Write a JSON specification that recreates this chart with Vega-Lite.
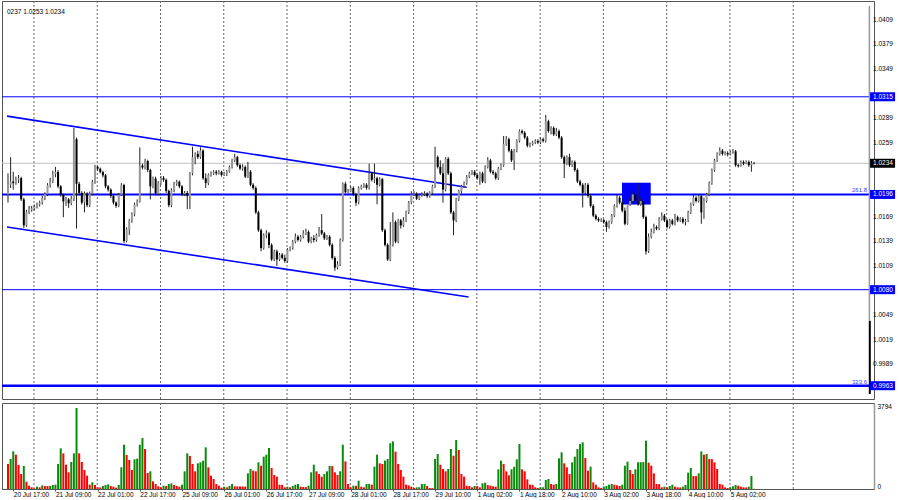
{
"$schema": "https://vega.github.io/schema/vega-lite/v6.json",
"background": "white",
"padding": 0,
"spacing": 2,
"config": {"view": {"stroke": "#555", "strokeWidth": 1}, "font": "Liberation Sans"},
"datasets": {
"grid": [{"g":9.85},{"g":33.85},{"g":57.85},{"g":81.85},{"g":105.85},{"g":129.85},{"g":153.85},{"g":177.85},{"g":201.85},{"g":225.85},{"g":249.85},{"g":273.85},{"g":297.85}],
"chan": [{"id":"up","k":-0.375,"p":1.02914},{"id":"up","k":174.0,"p":1.02047},{"id":"dn","k":-0.375,"p":1.01564},{"id":"dn","k":174.7,"p":1.00711}],
"yt": [{"p":1.0409},{"p":1.0379},{"p":1.0349},{"p":1.0289},{"p":1.0259},{"p":1.0169},{"p":1.0139},{"p":1.0109},{"p":1.0049},{"p":1.0019},{"p":0.9989}],
"tags": [{"p":1.0315,"kind":"level"},{"p":1.0234,"kind":"price"},{"p":1.0196,"kind":"level"},{"p":1.0080,"kind":"level"},{"p":0.9963,"kind":"level"}],
"fib": [{"p":1.0196,"t":"261.8"},{"p":0.9963,"t":"323.6"}],
"bars": [
{"k":0,"o":1.01960,"h":1.02217,"l":1.01861,"c":1.02078,"v":1105},
{"k":1,"o":1.02078,"h":1.02415,"l":1.02039,"c":1.02118,"v":1326},
{"k":2,"o":1.02118,"h":1.02237,"l":1.02019,"c":1.02098,"v":1664},
{"k":3,"o":1.02098,"h":1.02177,"l":1.02078,"c":1.02138,"v":1517},
{"k":4,"o":1.02138,"h":1.02197,"l":1.02098,"c":1.02158,"v":1061},
{"k":5,"o":1.02158,"h":1.02177,"l":1.01880,"c":1.01900,"v":663},
{"k":6,"o":1.01900,"h":1.01920,"l":1.01552,"c":1.01583,"v":1016},
{"k":7,"o":1.01583,"h":1.01773,"l":1.01564,"c":1.01750,"v":324},
{"k":8,"o":1.01750,"h":1.01821,"l":1.01722,"c":1.01773,"v":147},
{"k":9,"o":1.01773,"h":1.01821,"l":1.01750,"c":1.01789,"v":74},
{"k":10,"o":1.01789,"h":1.01837,"l":1.01766,"c":1.01813,"v":29},
{"k":11,"o":1.01813,"h":1.01861,"l":1.01789,"c":1.01837,"v":103},
{"k":12,"o":1.01837,"h":1.01884,"l":1.01813,"c":1.01861,"v":74},
{"k":13,"o":1.01861,"h":1.01940,"l":1.01837,"c":1.01916,"v":162},
{"k":14,"o":1.01916,"h":1.01987,"l":1.01892,"c":1.01964,"v":133},
{"k":15,"o":1.01964,"h":1.02098,"l":1.01940,"c":1.02074,"v":130},
{"k":16,"o":1.02074,"h":1.02162,"l":1.02043,"c":1.02122,"v":135},
{"k":17,"o":1.02122,"h":1.02249,"l":1.02098,"c":1.02209,"v":177},
{"k":18,"o":1.02209,"h":1.02296,"l":1.02169,"c":1.02233,"v":191},
{"k":19,"o":1.02233,"h":1.02257,"l":1.02035,"c":1.02059,"v":1105},
{"k":20,"o":1.02059,"h":1.02074,"l":1.01932,"c":1.01956,"v":1797},
{"k":21,"o":1.01956,"h":1.01971,"l":1.01683,"c":1.01876,"v":1576},
{"k":22,"o":1.01876,"h":1.01932,"l":1.01821,"c":1.01900,"v":1075},
{"k":23,"o":1.01900,"h":1.01916,"l":1.01797,"c":1.01853,"v":737},
{"k":24,"o":1.01853,"h":1.01940,"l":1.01829,"c":1.01908,"v":1193},
{"k":25,"o":1.01908,"h":1.02771,"l":1.01880,"c":1.02633,"v":1576},
{"k":26,"o":1.02633,"h":1.02653,"l":1.01544,"c":1.02090,"v":3579},
{"k":27,"o":1.02090,"h":1.02114,"l":1.01948,"c":1.01979,"v":1576},
{"k":28,"o":1.01979,"h":1.01999,"l":1.01837,"c":1.01861,"v":1193},
{"k":29,"o":1.01861,"h":1.01995,"l":1.01742,"c":1.01971,"v":840},
{"k":30,"o":1.01971,"h":1.01987,"l":1.01805,"c":1.01829,"v":589},
{"k":31,"o":1.01829,"h":1.01995,"l":1.01805,"c":1.01971,"v":191},
{"k":32,"o":1.01971,"h":1.02138,"l":1.01948,"c":1.02114,"v":295},
{"k":33,"o":1.02114,"h":1.02320,"l":1.02090,"c":1.02296,"v":177},
{"k":34,"o":1.02296,"h":1.02312,"l":1.02249,"c":1.02273,"v":74},
{"k":35,"o":1.02273,"h":1.02288,"l":1.02217,"c":1.02233,"v":70},
{"k":36,"o":1.02233,"h":1.02249,"l":1.02169,"c":1.02193,"v":133},
{"k":37,"o":1.02193,"h":1.02209,"l":1.02035,"c":1.02059,"v":177},
{"k":38,"o":1.02059,"h":1.02074,"l":1.01995,"c":1.02019,"v":206},
{"k":39,"o":1.02019,"h":1.02035,"l":1.01916,"c":1.01940,"v":133},
{"k":40,"o":1.01940,"h":1.01956,"l":1.01837,"c":1.01861,"v":103},
{"k":41,"o":1.01861,"h":1.01876,"l":1.01797,"c":1.01821,"v":59},
{"k":42,"o":1.01821,"h":1.01979,"l":1.01805,"c":1.01956,"v":177},
{"k":43,"o":1.01956,"h":1.02098,"l":1.01940,"c":1.02074,"v":957},
{"k":44,"o":1.02074,"h":1.02090,"l":1.01366,"c":1.01393,"v":1959},
{"k":45,"o":1.01393,"h":1.01560,"l":1.01377,"c":1.01536,"v":1502},
{"k":46,"o":1.01536,"h":1.01663,"l":1.01465,"c":1.01639,"v":1282},
{"k":47,"o":1.01639,"h":1.01742,"l":1.01615,"c":1.01718,"v":840},
{"k":48,"o":1.01718,"h":1.01861,"l":1.01694,"c":1.01837,"v":1311},
{"k":49,"o":1.01837,"h":1.01900,"l":1.01813,"c":1.01876,"v":1340},
{"k":50,"o":1.01876,"h":1.02534,"l":1.01861,"c":1.02312,"v":1959},
{"k":51,"o":1.02312,"h":1.02336,"l":1.02265,"c":1.02288,"v":2254},
{"k":52,"o":1.02288,"h":1.02395,"l":1.02265,"c":1.02367,"v":1768},
{"k":53,"o":1.02367,"h":1.02383,"l":1.02233,"c":1.02257,"v":707},
{"k":54,"o":1.02257,"h":1.02273,"l":1.01900,"c":1.02059,"v":781},
{"k":55,"o":1.02059,"h":1.02177,"l":1.02035,"c":1.02154,"v":339},
{"k":56,"o":1.02154,"h":1.02177,"l":1.01948,"c":1.01971,"v":221},
{"k":57,"o":1.01971,"h":1.02122,"l":1.01948,"c":1.02098,"v":118},
{"k":58,"o":1.02098,"h":1.02185,"l":1.02074,"c":1.02162,"v":74},
{"k":59,"o":1.02162,"h":1.02185,"l":1.02114,"c":1.02138,"v":147},
{"k":60,"o":1.02138,"h":1.02154,"l":1.01979,"c":1.02003,"v":133},
{"k":61,"o":1.02003,"h":1.02019,"l":1.01805,"c":1.01829,"v":221},
{"k":62,"o":1.01829,"h":1.02035,"l":1.01805,"c":1.02011,"v":250},
{"k":63,"o":1.02011,"h":1.02114,"l":1.01987,"c":1.02090,"v":177},
{"k":64,"o":1.02090,"h":1.02138,"l":1.02066,"c":1.02114,"v":133},
{"k":65,"o":1.02114,"h":1.02130,"l":1.02035,"c":1.02059,"v":103},
{"k":66,"o":1.02059,"h":1.02074,"l":1.01940,"c":1.01964,"v":191},
{"k":67,"o":1.01964,"h":1.02003,"l":1.01940,"c":1.01979,"v":781},
{"k":68,"o":1.01979,"h":1.02003,"l":1.01781,"c":1.01940,"v":1576},
{"k":69,"o":1.01940,"h":1.02233,"l":1.01781,"c":1.02217,"v":1458},
{"k":70,"o":1.02217,"h":1.02542,"l":1.02193,"c":1.02415,"v":1105},
{"k":71,"o":1.02415,"h":1.02474,"l":1.02328,"c":1.02455,"v":781},
{"k":72,"o":1.02455,"h":1.02494,"l":1.02391,"c":1.02415,"v":1134},
{"k":73,"o":1.02415,"h":1.02534,"l":1.02395,"c":1.02494,"v":1178},
{"k":74,"o":1.02494,"h":1.02510,"l":1.02138,"c":1.02158,"v":1252},
{"k":75,"o":1.02158,"h":1.02217,"l":1.02039,"c":1.02098,"v":1841},
{"k":76,"o":1.02098,"h":1.02217,"l":1.02074,"c":1.02197,"v":957},
{"k":77,"o":1.02197,"h":1.02241,"l":1.02177,"c":1.02217,"v":589},
{"k":78,"o":1.02217,"h":1.02257,"l":1.02197,"c":1.02237,"v":442},
{"k":79,"o":1.02237,"h":1.02257,"l":1.02193,"c":1.02217,"v":221},
{"k":80,"o":1.02217,"h":1.02257,"l":1.02201,"c":1.02237,"v":147},
{"k":81,"o":1.02237,"h":1.02249,"l":1.02177,"c":1.02197,"v":59},
{"k":82,"o":1.02197,"h":1.02233,"l":1.02185,"c":1.02217,"v":103},
{"k":83,"o":1.02217,"h":1.02257,"l":1.02185,"c":1.02237,"v":74},
{"k":84,"o":1.02237,"h":1.02312,"l":1.02225,"c":1.02296,"v":133},
{"k":85,"o":1.02296,"h":1.02395,"l":1.02276,"c":1.02375,"v":221},
{"k":86,"o":1.02375,"h":1.02455,"l":1.02356,"c":1.02415,"v":118},
{"k":87,"o":1.02415,"h":1.02431,"l":1.02296,"c":1.02316,"v":115},
{"k":88,"o":1.02316,"h":1.02336,"l":1.02257,"c":1.02276,"v":112},
{"k":89,"o":1.02276,"h":1.02328,"l":1.02249,"c":1.02296,"v":110},
{"k":90,"o":1.02296,"h":1.02312,"l":1.02158,"c":1.02177,"v":108},
{"k":91,"o":1.02177,"h":1.02356,"l":1.02162,"c":1.02237,"v":692},
{"k":92,"o":1.02237,"h":1.02257,"l":1.02059,"c":1.02078,"v":884},
{"k":93,"o":1.02078,"h":1.02098,"l":1.02019,"c":1.02039,"v":810},
{"k":94,"o":1.02039,"h":1.02059,"l":1.01722,"c":1.01742,"v":781},
{"k":95,"o":1.01742,"h":1.01762,"l":1.01504,"c":1.01524,"v":1178},
{"k":96,"o":1.01524,"h":1.01544,"l":1.01267,"c":1.01306,"v":1031},
{"k":97,"o":1.01306,"h":1.01485,"l":1.01287,"c":1.01465,"v":1429},
{"k":98,"o":1.01465,"h":1.01524,"l":1.01425,"c":1.01485,"v":1517},
{"k":99,"o":1.01485,"h":1.01504,"l":1.01306,"c":1.01346,"v":1812},
{"k":100,"o":1.01346,"h":1.01366,"l":1.01148,"c":1.01168,"v":928},
{"k":101,"o":1.01168,"h":1.01287,"l":1.01148,"c":1.01267,"v":619},
{"k":102,"o":1.01267,"h":1.01287,"l":1.01088,"c":1.01168,"v":545},
{"k":103,"o":1.01168,"h":1.01247,"l":1.01148,"c":1.01227,"v":191},
{"k":104,"o":1.01227,"h":1.01247,"l":1.01168,"c":1.01187,"v":185},
{"k":105,"o":1.01187,"h":1.01227,"l":1.01128,"c":1.01148,"v":74},
{"k":106,"o":1.01148,"h":1.01306,"l":1.01128,"c":1.01287,"v":103},
{"k":107,"o":1.01287,"h":1.01326,"l":1.01267,"c":1.01306,"v":74},
{"k":108,"o":1.01306,"h":1.01405,"l":1.01287,"c":1.01385,"v":133},
{"k":109,"o":1.01385,"h":1.01485,"l":1.01366,"c":1.01445,"v":191},
{"k":110,"o":1.01445,"h":1.01465,"l":1.01385,"c":1.01405,"v":221},
{"k":111,"o":1.01405,"h":1.01465,"l":1.01385,"c":1.01445,"v":103},
{"k":112,"o":1.01445,"h":1.01524,"l":1.01425,"c":1.01485,"v":88},
{"k":113,"o":1.01485,"h":1.01544,"l":1.01465,"c":1.01504,"v":85},
{"k":114,"o":1.01504,"h":1.01524,"l":1.01366,"c":1.01385,"v":147},
{"k":115,"o":1.01385,"h":1.01445,"l":1.01366,"c":1.01425,"v":737},
{"k":116,"o":1.01425,"h":1.01465,"l":1.01377,"c":1.01405,"v":1075},
{"k":117,"o":1.01405,"h":1.01485,"l":1.01385,"c":1.01465,"v":781},
{"k":118,"o":1.01465,"h":1.01564,"l":1.01445,"c":1.01524,"v":663},
{"k":119,"o":1.01524,"h":1.01722,"l":1.01465,"c":1.01485,"v":545},
{"k":120,"o":1.01485,"h":1.01504,"l":1.01405,"c":1.01425,"v":663},
{"k":121,"o":1.01425,"h":1.01465,"l":1.01405,"c":1.01445,"v":781},
{"k":122,"o":1.01445,"h":1.01465,"l":1.01326,"c":1.01346,"v":1016},
{"k":123,"o":1.01346,"h":1.01366,"l":1.01168,"c":1.01187,"v":1010},
{"k":124,"o":1.01187,"h":1.01207,"l":1.01029,"c":1.01069,"v":737},
{"k":125,"o":1.01069,"h":1.01148,"l":1.01049,"c":1.01108,"v":619},
{"k":126,"o":1.01108,"h":1.01425,"l":1.01088,"c":1.01405,"v":781},
{"k":127,"o":1.01405,"h":1.02106,"l":1.01385,"c":1.02090,"v":1959},
{"k":128,"o":1.02090,"h":1.02114,"l":1.01971,"c":1.01987,"v":1223},
{"k":129,"o":1.01987,"h":1.02027,"l":1.01971,"c":1.01999,"v":221},
{"k":130,"o":1.01999,"h":1.02059,"l":1.01987,"c":1.02039,"v":74},
{"k":131,"o":1.02039,"h":1.02059,"l":1.01940,"c":1.01960,"v":147},
{"k":132,"o":1.01960,"h":1.01979,"l":1.01821,"c":1.01861,"v":140},
{"k":133,"o":1.01861,"h":1.02059,"l":1.01841,"c":1.02039,"v":368},
{"k":134,"o":1.02039,"h":1.02078,"l":1.02019,"c":1.02059,"v":103},
{"k":135,"o":1.02059,"h":1.02098,"l":1.02039,"c":1.02078,"v":74},
{"k":136,"o":1.02078,"h":1.02098,"l":1.02019,"c":1.02039,"v":221},
{"k":137,"o":1.02039,"h":1.02336,"l":1.02019,"c":1.02217,"v":225},
{"k":138,"o":1.02217,"h":1.02237,"l":1.02118,"c":1.02138,"v":191},
{"k":139,"o":1.02138,"h":1.02336,"l":1.02098,"c":1.02158,"v":987},
{"k":140,"o":1.02158,"h":1.02177,"l":1.01841,"c":1.02078,"v":1517},
{"k":141,"o":1.02078,"h":1.02169,"l":1.02059,"c":1.02146,"v":1134},
{"k":142,"o":1.02146,"h":1.02162,"l":1.01504,"c":1.01524,"v":1105},
{"k":143,"o":1.01524,"h":1.01544,"l":1.01326,"c":1.01346,"v":1252},
{"k":144,"o":1.01346,"h":1.01366,"l":1.01148,"c":1.01168,"v":1326},
{"k":145,"o":1.01168,"h":1.01623,"l":1.01148,"c":1.01346,"v":2018},
{"k":146,"o":1.01346,"h":1.01742,"l":1.01326,"c":1.01623,"v":2106},
{"k":147,"o":1.01623,"h":1.01643,"l":1.01366,"c":1.01385,"v":1650},
{"k":148,"o":1.01385,"h":1.01663,"l":1.01366,"c":1.01643,"v":1105},
{"k":149,"o":1.01643,"h":1.01663,"l":1.01544,"c":1.01583,"v":840},
{"k":150,"o":1.01583,"h":1.01683,"l":1.01564,"c":1.01643,"v":545},
{"k":151,"o":1.01643,"h":1.01762,"l":1.01623,"c":1.01742,"v":191},
{"k":152,"o":1.01742,"h":1.01880,"l":1.01722,"c":1.01861,"v":162},
{"k":153,"o":1.01861,"h":1.01999,"l":1.01841,"c":1.01960,"v":103},
{"k":154,"o":1.01960,"h":1.01999,"l":1.01940,"c":1.01971,"v":44},
{"k":155,"o":1.01971,"h":1.01987,"l":1.01892,"c":1.01908,"v":74},
{"k":156,"o":1.01908,"h":1.01971,"l":1.01892,"c":1.01948,"v":78},
{"k":157,"o":1.01948,"h":1.01987,"l":1.01932,"c":1.01960,"v":221},
{"k":158,"o":1.01960,"h":1.01999,"l":1.01940,"c":1.01971,"v":225},
{"k":159,"o":1.01971,"h":1.01987,"l":1.01916,"c":1.01940,"v":133},
{"k":160,"o":1.01940,"h":1.01999,"l":1.01920,"c":1.01979,"v":44},
{"k":161,"o":1.01979,"h":1.02078,"l":1.01960,"c":1.02059,"v":40},
{"k":162,"o":1.02059,"h":1.02542,"l":1.02039,"c":1.02415,"v":1326},
{"k":163,"o":1.02415,"h":1.02435,"l":1.02276,"c":1.02296,"v":1547},
{"k":164,"o":1.02296,"h":1.02375,"l":1.02197,"c":1.02217,"v":1075},
{"k":165,"o":1.02217,"h":1.02336,"l":1.01861,"c":1.02019,"v":884},
{"k":166,"o":1.02019,"h":1.02415,"l":1.01999,"c":1.02395,"v":781},
{"k":167,"o":1.02395,"h":1.02415,"l":1.02197,"c":1.02217,"v":884},
{"k":168,"o":1.02217,"h":1.02237,"l":1.01722,"c":1.01742,"v":1768},
{"k":169,"o":1.01742,"h":1.01762,"l":1.01465,"c":1.01643,"v":1473},
{"k":170,"o":1.01643,"h":1.01920,"l":1.01623,"c":1.01900,"v":2165},
{"k":171,"o":1.01900,"h":1.02019,"l":1.01880,"c":1.01999,"v":1723},
{"k":172,"o":1.01999,"h":1.02078,"l":1.01971,"c":1.02059,"v":663},
{"k":173,"o":1.02059,"h":1.02118,"l":1.02039,"c":1.02098,"v":545},
{"k":174,"o":1.02098,"h":1.02197,"l":1.02078,"c":1.02177,"v":147},
{"k":175,"o":1.02177,"h":1.02237,"l":1.02158,"c":1.02217,"v":133},
{"k":176,"o":1.02217,"h":1.02257,"l":1.02197,"c":1.02237,"v":74},
{"k":177,"o":1.02237,"h":1.02257,"l":1.02177,"c":1.02197,"v":133},
{"k":178,"o":1.02197,"h":1.02217,"l":1.02138,"c":1.02158,"v":130},
{"k":179,"o":1.02158,"h":1.02237,"l":1.02078,"c":1.02217,"v":74},
{"k":180,"o":1.02217,"h":1.02237,"l":1.02098,"c":1.02118,"v":250},
{"k":181,"o":1.02118,"h":1.02316,"l":1.02098,"c":1.02296,"v":280},
{"k":182,"o":1.02296,"h":1.02415,"l":1.02276,"c":1.02375,"v":177},
{"k":183,"o":1.02375,"h":1.02395,"l":1.02217,"c":1.02237,"v":147},
{"k":184,"o":1.02237,"h":1.02257,"l":1.02197,"c":1.02217,"v":118},
{"k":185,"o":1.02217,"h":1.02237,"l":1.02138,"c":1.02158,"v":103},
{"k":186,"o":1.02158,"h":1.02296,"l":1.02138,"c":1.02276,"v":869},
{"k":187,"o":1.02276,"h":1.02336,"l":1.02257,"c":1.02316,"v":1252},
{"k":188,"o":1.02316,"h":1.02672,"l":1.02296,"c":1.02573,"v":1105},
{"k":189,"o":1.02573,"h":1.02672,"l":1.02554,"c":1.02633,"v":781},
{"k":190,"o":1.02633,"h":1.02653,"l":1.02474,"c":1.02494,"v":604},
{"k":191,"o":1.02494,"h":1.02514,"l":1.02356,"c":1.02375,"v":869},
{"k":192,"o":1.02375,"h":1.02514,"l":1.02257,"c":1.02494,"v":987},
{"k":193,"o":1.02494,"h":1.02633,"l":1.02474,"c":1.02613,"v":1311},
{"k":194,"o":1.02613,"h":1.02752,"l":1.02593,"c":1.02732,"v":1989},
{"k":195,"o":1.02732,"h":1.02752,"l":1.02692,"c":1.02712,"v":869},
{"k":196,"o":1.02712,"h":1.02732,"l":1.02633,"c":1.02653,"v":781},
{"k":197,"o":1.02653,"h":1.02672,"l":1.02534,"c":1.02554,"v":427},
{"k":198,"o":1.02554,"h":1.02593,"l":1.02534,"c":1.02573,"v":191},
{"k":199,"o":1.02573,"h":1.02613,"l":1.02554,"c":1.02593,"v":185},
{"k":200,"o":1.02593,"h":1.02633,"l":1.02573,"c":1.02613,"v":74},
{"k":201,"o":1.02613,"h":1.02633,"l":1.02573,"c":1.02593,"v":44},
{"k":202,"o":1.02593,"h":1.02653,"l":1.02573,"c":1.02633,"v":74},
{"k":203,"o":1.02633,"h":1.02653,"l":1.02593,"c":1.02613,"v":78},
{"k":204,"o":1.02613,"h":1.02930,"l":1.02593,"c":1.02851,"v":398},
{"k":205,"o":1.02851,"h":1.02870,"l":1.02712,"c":1.02732,"v":442},
{"k":206,"o":1.02732,"h":1.02791,"l":1.02692,"c":1.02771,"v":221},
{"k":207,"o":1.02771,"h":1.02791,"l":1.02672,"c":1.02692,"v":191},
{"k":208,"o":1.02692,"h":1.02771,"l":1.02672,"c":1.02732,"v":221},
{"k":209,"o":1.02732,"h":1.02752,"l":1.02633,"c":1.02653,"v":1355},
{"k":210,"o":1.02653,"h":1.02672,"l":1.02395,"c":1.02415,"v":1620},
{"k":211,"o":1.02415,"h":1.02435,"l":1.02158,"c":1.02336,"v":1134},
{"k":212,"o":1.02336,"h":1.02435,"l":1.02316,"c":1.02415,"v":957},
{"k":213,"o":1.02415,"h":1.02455,"l":1.02296,"c":1.02316,"v":663},
{"k":214,"o":1.02316,"h":1.02375,"l":1.02296,"c":1.02356,"v":1178},
{"k":215,"o":1.02356,"h":1.02375,"l":1.02237,"c":1.02257,"v":1429},
{"k":216,"o":1.02257,"h":1.02276,"l":1.02098,"c":1.02118,"v":1768},
{"k":217,"o":1.02118,"h":1.02138,"l":1.02059,"c":1.02078,"v":1989},
{"k":218,"o":1.02078,"h":1.02098,"l":1.01801,"c":1.01979,"v":2062},
{"k":219,"o":1.01979,"h":1.02098,"l":1.01960,"c":1.02078,"v":1370},
{"k":220,"o":1.02078,"h":1.02098,"l":1.01920,"c":1.01940,"v":810},
{"k":221,"o":1.01940,"h":1.01960,"l":1.01801,"c":1.01821,"v":987},
{"k":222,"o":1.01821,"h":1.01841,"l":1.01683,"c":1.01702,"v":295},
{"k":223,"o":1.01702,"h":1.01722,"l":1.01643,"c":1.01663,"v":191},
{"k":224,"o":1.01663,"h":1.01683,"l":1.01623,"c":1.01643,"v":74},
{"k":225,"o":1.01643,"h":1.01671,"l":1.01623,"c":1.01647,"v":44},
{"k":226,"o":1.01647,"h":1.01663,"l":1.01603,"c":1.01623,"v":103},
{"k":227,"o":1.01623,"h":1.01643,"l":1.01504,"c":1.01564,"v":133},
{"k":228,"o":1.01564,"h":1.01643,"l":1.01544,"c":1.01623,"v":191},
{"k":229,"o":1.01623,"h":1.01722,"l":1.01603,"c":1.01702,"v":221},
{"k":230,"o":1.01702,"h":1.01841,"l":1.01683,"c":1.01821,"v":191},
{"k":231,"o":1.01821,"h":1.01960,"l":1.01801,"c":1.01920,"v":162},
{"k":232,"o":1.01920,"h":1.01940,"l":1.01841,"c":1.01861,"v":133},
{"k":233,"o":1.01861,"h":1.01880,"l":1.01742,"c":1.01762,"v":191},
{"k":234,"o":1.01762,"h":1.01801,"l":1.01583,"c":1.01603,"v":1031},
{"k":235,"o":1.01603,"h":1.01880,"l":1.01591,"c":1.01841,"v":1208},
{"k":236,"o":1.01841,"h":1.01940,"l":1.01821,"c":1.01880,"v":840},
{"k":237,"o":1.01880,"h":1.01999,"l":1.01861,"c":1.01960,"v":663},
{"k":238,"o":1.01960,"h":1.01999,"l":1.01853,"c":1.01880,"v":869},
{"k":239,"o":1.01880,"h":1.02102,"l":1.01821,"c":1.01841,"v":1178},
{"k":240,"o":1.01841,"h":1.01920,"l":1.01821,"c":1.01880,"v":1185},
{"k":241,"o":1.01880,"h":1.01900,"l":1.01663,"c":1.01683,"v":1190},
{"k":242,"o":1.01683,"h":1.01702,"l":1.01227,"c":1.01267,"v":2136},
{"k":243,"o":1.01267,"h":1.01485,"l":1.01247,"c":1.01445,"v":1164},
{"k":244,"o":1.01445,"h":1.01544,"l":1.01425,"c":1.01504,"v":1031},
{"k":245,"o":1.01504,"h":1.01603,"l":1.01485,"c":1.01564,"v":692},
{"k":246,"o":1.01564,"h":1.01583,"l":1.01524,"c":1.01544,"v":221},
{"k":247,"o":1.01544,"h":1.01683,"l":1.01524,"c":1.01663,"v":215},
{"k":248,"o":1.01663,"h":1.01742,"l":1.01643,"c":1.01702,"v":74},
{"k":249,"o":1.01702,"h":1.01722,"l":1.01623,"c":1.01643,"v":103},
{"k":250,"o":1.01643,"h":1.01663,"l":1.01544,"c":1.01564,"v":74},
{"k":251,"o":1.01564,"h":1.01663,"l":1.01544,"c":1.01643,"v":133},
{"k":252,"o":1.01643,"h":1.01663,"l":1.01583,"c":1.01603,"v":191},
{"k":253,"o":1.01603,"h":1.01722,"l":1.01583,"c":1.01683,"v":103},
{"k":254,"o":1.01683,"h":1.01702,"l":1.01623,"c":1.01643,"v":74},
{"k":255,"o":1.01643,"h":1.01683,"l":1.01623,"c":1.01663,"v":70},
{"k":256,"o":1.01663,"h":1.01683,"l":1.01603,"c":1.01623,"v":103},
{"k":257,"o":1.01623,"h":1.01663,"l":1.01583,"c":1.01643,"v":177},
{"k":258,"o":1.01643,"h":1.01762,"l":1.01623,"c":1.01742,"v":722},
{"k":259,"o":1.01742,"h":1.01861,"l":1.01722,"c":1.01841,"v":928},
{"k":260,"o":1.01841,"h":1.01960,"l":1.01821,"c":1.01920,"v":574},
{"k":261,"o":1.01920,"h":1.01940,"l":1.01861,"c":1.01880,"v":570},
{"k":262,"o":1.01880,"h":1.01960,"l":1.01861,"c":1.01940,"v":692},
{"k":263,"o":1.01940,"h":1.01960,"l":1.01603,"c":1.01742,"v":1664},
{"k":264,"o":1.01742,"h":1.01920,"l":1.01663,"c":1.01880,"v":1517},
{"k":265,"o":1.01880,"h":1.01979,"l":1.01861,"c":1.01960,"v":1547},
{"k":266,"o":1.01960,"h":1.02118,"l":1.01940,"c":1.02098,"v":1326},
{"k":267,"o":1.02098,"h":1.02276,"l":1.02078,"c":1.02257,"v":1320},
{"k":268,"o":1.02257,"h":1.02395,"l":1.02237,"c":1.02375,"v":1178},
{"k":269,"o":1.02375,"h":1.02474,"l":1.02356,"c":1.02455,"v":884},
{"k":270,"o":1.02455,"h":1.02534,"l":1.02435,"c":1.02494,"v":221},
{"k":271,"o":1.02494,"h":1.02514,"l":1.02435,"c":1.02455,"v":191},
{"k":272,"o":1.02455,"h":1.02486,"l":1.02435,"c":1.02463,"v":74},
{"k":273,"o":1.02463,"h":1.02486,"l":1.02423,"c":1.02447,"v":44},
{"k":274,"o":1.02447,"h":1.02494,"l":1.02435,"c":1.02474,"v":74},
{"k":275,"o":1.02474,"h":1.02514,"l":1.02455,"c":1.02486,"v":118},
{"k":276,"o":1.02486,"h":1.02502,"l":1.02296,"c":1.02316,"v":177},
{"k":277,"o":1.02316,"h":1.02336,"l":1.02288,"c":1.02304,"v":147},
{"k":278,"o":1.02304,"h":1.02375,"l":1.02296,"c":1.02356,"v":103},
{"k":279,"o":1.02356,"h":1.02375,"l":1.02316,"c":1.02336,"v":74},
{"k":280,"o":1.02336,"h":1.02375,"l":1.02328,"c":1.02356,"v":70},
{"k":281,"o":1.02356,"h":1.02375,"l":1.02296,"c":1.02316,"v":103},
{"k":282,"o":1.02316,"h":1.02367,"l":1.02237,"c":1.02344,"v":574},
{"k":283,"o":1.02344,"h":1.02356,"l":1.02328,"c":1.02340,"v":10}
]
},
"vconcat": [
{
"width": 872,
"height": 398,
"layer": [
{"data": {"name": "grid"}, "mark": {"type": "rule", "color": "#666", "strokeDash": [2, 2], "strokeWidth": 1}, "encoding": {"x": {"field": "g", "type": "quantitative", "axis": null, "scale": {"domain": [-0.375, 326.6], "nice": false, "zero": false}}}},
{"data": {"values": [{}]}, "mark": {"type": "rect", "color": "#0000ff"}, "encoding": {"x": {"datum": 232.9, "type": "quantitative", "axis": null}, "x2": {"datum": 243.8}, "y": {"datum": 1.02103, "type": "quantitative", "axis": null}, "y2": {"datum": 1.01837}}},
{"data": {"values": [{}]}, "mark": {"type": "rule", "color": "#c0c0c0", "strokeWidth": 1}, "encoding": {"y": {"datum": 1.0234, "type": "quantitative", "axis": null}}},
{"data": {"values": [{}]}, "mark": {"type": "rule", "color": "#0000ff", "strokeWidth": 1}, "encoding": {"y": {"datum": 1.0315, "type": "quantitative", "axis": null}}},
{"data": {"values": [{}]}, "mark": {"type": "rule", "color": "#0000ff", "strokeWidth": 1}, "encoding": {"y": {"datum": 1.0080, "type": "quantitative", "axis": null}}},
{"data": {"values": [{}]}, "mark": {"type": "rule", "color": "#0000ff", "strokeWidth": 2}, "encoding": {"y": {"datum": 1.0196, "type": "quantitative", "axis": null}}},
{"data": {"values": [{}]}, "mark": {"type": "rule", "color": "#0000ff", "strokeWidth": 2.5}, "encoding": {"y": {"datum": 0.9963, "type": "quantitative", "axis": null}}},
{"data": {"name": "chan"}, "mark": {"type": "line", "color": "#0000ff", "strokeWidth": 1.6}, "encoding": {"x": {"field": "k", "type": "quantitative", "axis": null}, "y": {"field": "p", "type": "quantitative", "axis": null}, "detail": {"field": "id"}}},
{"data": {"name": "bars"}, "mark": {"type": "rule", "color": "#222", "strokeWidth": 1}, "encoding": {"x": {"field": "k", "type": "quantitative", "axis": null}, "y": {"field": "l", "type": "quantitative", "axis": null}, "y2": {"field": "h"}}},
{"data": {"name": "bars"}, "mark": {"type": "bar", "size": 2, "orient": "vertical"}, "encoding": {
  "x": {"field": "k", "type": "quantitative", "axis": null, "scale": {"domain": [-0.375, 326.6], "nice": false, "zero": false}},
  "y": {"field": "o", "type": "quantitative", "axis": null, "scale": {"domain": [0.99529, 1.04256], "nice": false, "zero": false}},
  "y2": {"field": "c"},
  "color": {"condition": {"test": "datum.c > datum.o", "value": "#9a9a9a"}, "value": "#000000"}}},
{"data": {"values": [{}]}, "mark": {"type": "rule", "color": "#999", "strokeWidth": 1.5, "clip": false}, "encoding": {"x": {"datum": 326.75, "type": "quantitative", "axis": null}, "y": {"datum": 1.04256, "type": "quantitative", "axis": null}, "y2": {"datum": 1.0042}}},
{"data": {"values": [{}]}, "mark": {"type": "rule", "color": "#000", "strokeWidth": 2, "clip": false}, "encoding": {"x": {"datum": 326.9, "type": "quantitative", "axis": null}, "y": {"datum": 1.0042, "type": "quantitative", "axis": null}, "y2": {"datum": 0.99529}}},
{"data": {"name": "yt"}, "mark": {"type": "text", "align": "left", "baseline": "middle", "dx": 3, "fontSize": 6.5, "color": "#000", "font": "Liberation Sans", "clip": false}, "encoding": {"y": {"field": "p", "type": "quantitative", "axis": null}, "x": {"datum": 327.0, "type": "quantitative", "axis": null}, "text": {"field": "p", "type": "quantitative", "format": ".4f"}}},
{"data": {"name": "fib"}, "mark": {"type": "text", "align": "right", "baseline": "bottom", "dx": -2, "dy": -1, "fontSize": 6, "color": "#3344ff", "font": "Liberation Sans"}, "encoding": {"x": {"datum": 326.6, "type": "quantitative", "axis": null}, "y": {"field": "p", "type": "quantitative", "axis": null}, "text": {"field": "t"}}},
{"data": {"values": [{}]}, "mark": {"type": "text", "align": "left", "baseline": "middle", "fontSize": 6.5, "color": "#000", "font": "Liberation Sans", "text": "0237 1.0253 1.0234"}, "encoding": {"x": {"datum": -0.375, "type": "quantitative", "axis": null}, "y": {"datum": 1.04185, "type": "quantitative", "axis": null}}},
{"data": {"name": "tags"}, "mark": {"type": "bar", "orient": "horizontal", "size": 9, "clip": false}, "encoding": {"y": {"field": "p", "type": "quantitative", "axis": null}, "x": {"datum": 327.0, "type": "quantitative", "axis": null}, "x2": {"datum": 336.5}, "color": {"field": "kind", "type": "nominal", "scale": {"domain": ["level", "price"], "range": ["#0000ff", "#000000"]}, "legend": null}}},
{"data": {"name": "tags"}, "mark": {"type": "text", "align": "left", "baseline": "middle", "dx": 3, "fontSize": 6.5, "color": "#ffffff", "font": "Liberation Sans", "clip": false}, "encoding": {"y": {"field": "p", "type": "quantitative", "axis": null}, "x": {"datum": 327.0, "type": "quantitative", "axis": null}, "text": {"field": "p", "type": "quantitative", "format": ".4f"}}}
]
},
{
"width": 872,
"height": 86,
"layer": [
{"data": {"name": "grid"}, "mark": {"type": "rule", "color": "#666", "strokeDash": [2, 2], "strokeWidth": 1}, "encoding": {"x": {"field": "g", "type": "quantitative", "title": null, "scale": {"domain": [-0.375, 326.6], "nice": false, "zero": false},
        "axis": {"orient": "bottom", "values": [2, 18, 34, 50, 66, 82, 98, 114, 130, 146, 162, 178, 194, 210, 226, 242, 258, 274], "labelExpr": "['20 Jul 17:00','21 Jul 09:00','22 Jul 01:00','22 Jul 17:00','25 Jul 09:00','26 Jul 01:00','26 Jul 17:00','27 Jul 09:00','28 Jul 01:00','28 Jul 17:00','29 Jul 10:00','1 Aug 02:00','1 Aug 18:00','2 Aug 10:00','3 Aug 02:00','3 Aug 18:00','4 Aug 10:00','5 Aug 02:00'][round((datum.value-2)/16)]", "labelAlign": "left", "labelFontSize": 6.5, "labelFont": "Liberation Sans", "labelColor": "#000", "tickSize": 2, "tickColor": "#555", "domainColor": "#555", "labelPadding": 0, "labelOverlap": false, "labelFlush": false, "grid": false, "title": null}}}},
{"data": {"name": "bars"},
 "transform": [{"window": [{"op": "lag", "field": "v", "as": "pv"}], "sort": [{"field": "k", "order": "ascending"}]}],
 "mark": {"type": "bar", "size": 2, "orient": "vertical"},
 "encoding": {
  "x": {"field": "k", "type": "quantitative", "title": null, "scale": {"domain": [-0.375, 326.6], "nice": false, "zero": false},
        "axis": {"orient": "bottom", "values": [2, 18, 34, 50, 66, 82, 98, 114, 130, 146, 162, 178, 194, 210, 226, 242, 258, 274], "labelExpr": "['20 Jul 17:00','21 Jul 09:00','22 Jul 01:00','22 Jul 17:00','25 Jul 09:00','26 Jul 01:00','26 Jul 17:00','27 Jul 09:00','28 Jul 01:00','28 Jul 17:00','29 Jul 10:00','1 Aug 02:00','1 Aug 18:00','2 Aug 10:00','3 Aug 02:00','3 Aug 18:00','4 Aug 10:00','5 Aug 02:00'][round((datum.value-2)/16)]", "labelAlign": "left", "labelFontSize": 6.5, "labelFont": "Liberation Sans", "labelColor": "#000", "tickSize": 2, "tickColor": "#555", "domainColor": "#555", "labelPadding": 0, "labelOverlap": false, "labelFlush": false, "grid": false, "title": null}},
  "y": {"field": "v", "type": "quantitative", "title": null, "scale": {"domain": [0, 3800], "nice": false},
        "axis": {"orient": "right", "values": [0, 3794], "format": "d", "labelFlush": true, "labelFontSize": 6.5, "labelFont": "Liberation Sans", "labelColor": "#000", "tickSize": 0, "domainColor": "#999", "domainWidth": 1.5, "labelPadding": 3, "labelOverlap": false, "grid": false, "title": null}},
  "color": {"condition": {"test": "datum.pv != null && datum.v > datum.pv", "value": "#0a8a0a"}, "value": "#ff0000"}}}
]
}
]
}
